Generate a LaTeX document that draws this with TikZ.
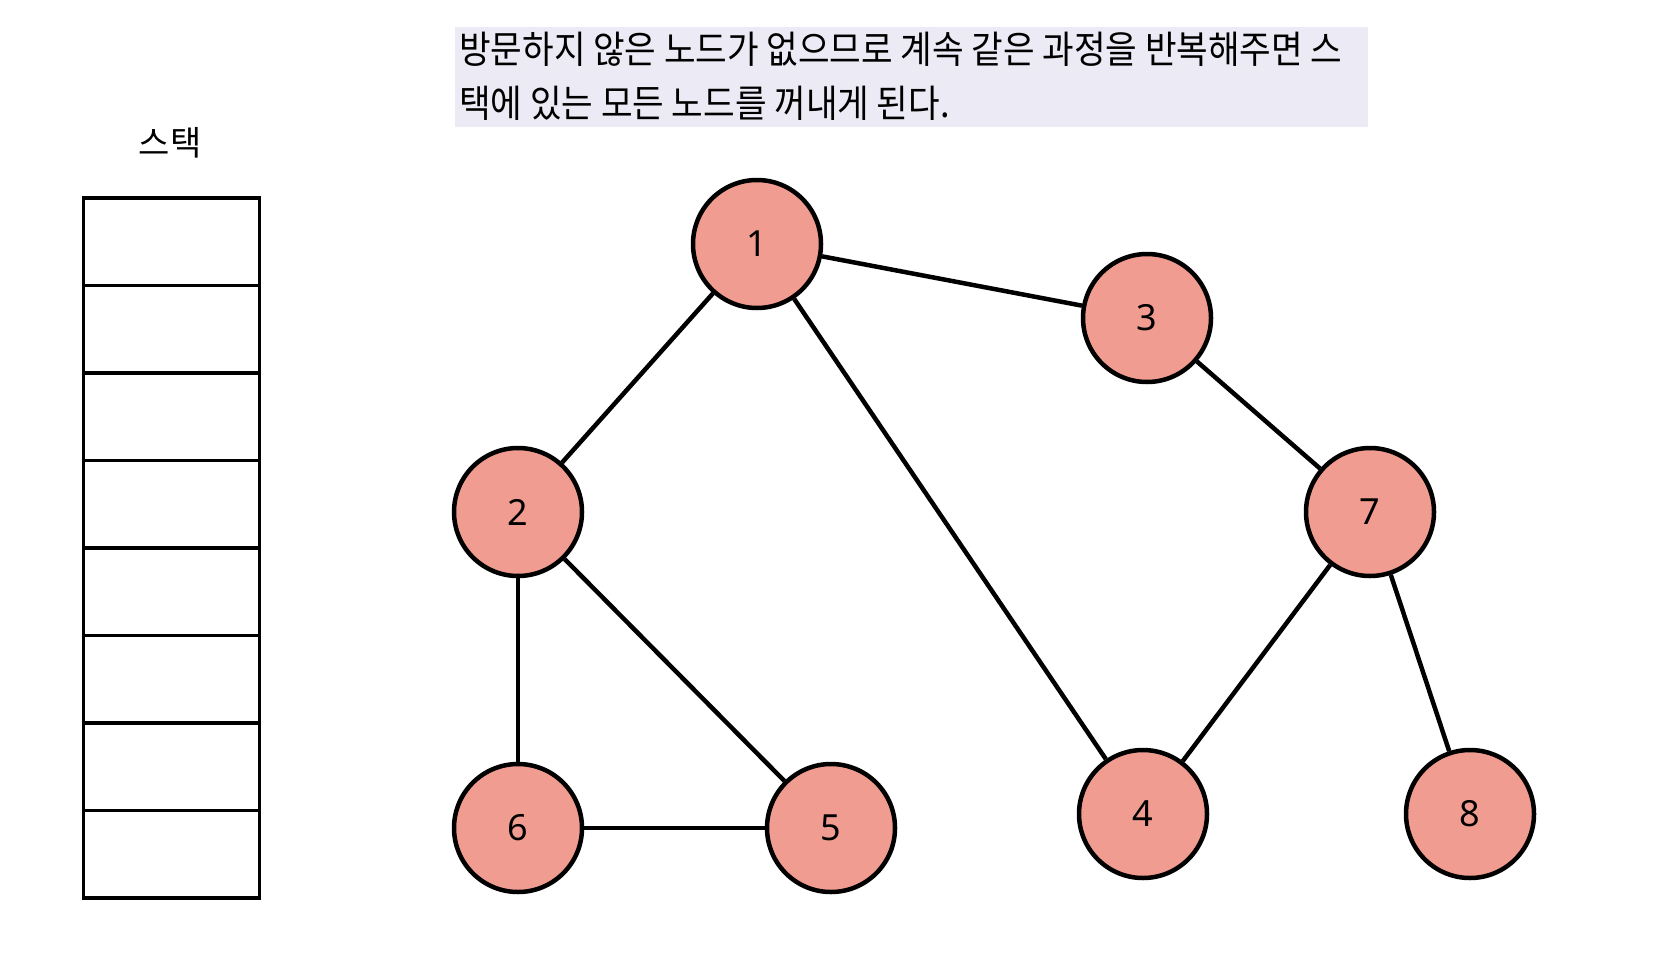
\documentclass[tikz,border=0pt]{standalone}
\usepackage{fontspec}
\newfontfamily\kr{Noto Sans CJK KR}
\newfontfamily\num{Noto Sans}
\definecolor{nodefill}{HTML}{F19C90}
\definecolor{boxfill}{HTML}{ECEAF4}
\tikzset{
  gnode/.style={circle, draw=black, line width=4.5pt, fill=nodefill, minimum size=128pt, inner sep=0pt, font=\num\fontsize{36}{40}\selectfont},
  gedge/.style={line width=4.5pt},
  cell/.style={draw=black, line width=3.8pt, minimum width=176pt, minimum height=87.5pt, inner sep=0pt},
}
\begin{document}
\begin{tikzpicture}[x=1pt,y=-1pt]
\useasboundingbox (0,0) rectangle (1662,966);
\fill[white] (0,0) rectangle (1662,966);
% text box
\node[fill=boxfill, minimum width=913pt, minimum height=100pt, anchor=north west, inner sep=0pt] (box) at (455,27) {};
\node[anchor=west, inner sep=0pt, font=\kr\fontsize{38}{42}\selectfont] (t1) at (459,49) {\scalebox{0.904}[1]{방문하지 않은 노드가 없으므로 계속 같은 과정을 반복해주면 스}};
\node[anchor=west, inner sep=0pt, font=\kr\fontsize{38}{42}\selectfont] (t2) at (459,103) {\scalebox{0.904}[1]{택에 있는 모든 노드를 꺼내게 된다.}};
% stack
\node[font=\kr\fontsize{34}{38}\selectfont, inner sep=0pt] (slabel) at (170,143) {스택};
\foreach \i in {0,...,7}{
  \node[cell, anchor=north west] (c\i) at (81.5,{196+87.5*\i}) {};
}
% graph nodes
\node[gnode] (n1) at (757,244) {1};
\node[gnode] (n3) at (1147,318) {3};
\node[gnode] (n2) at (518,512) {2};
\node[gnode] (n7) at (1370,512) {7};
\node[gnode] (n6) at (518,828) {6};
\node[gnode] (n5) at (831,828) {5};
\node[gnode] (n4) at (1143,814) {4};
\node[gnode] (n8) at (1470,814) {8};
\draw[gedge] (n1) -- (n3);
\draw[gedge] (n1) -- (n2);
\draw[gedge] (n1) -- (n4);
\draw[gedge] (n3) -- (n7);
\draw[gedge] (n2) -- (n6);
\draw[gedge] (n2) -- (n5);
\draw[gedge] (n6) -- (n5);
\draw[gedge] (n7) -- (n4);
\draw[gedge] (n7) -- (n8);
\end{tikzpicture}
\end{document}
